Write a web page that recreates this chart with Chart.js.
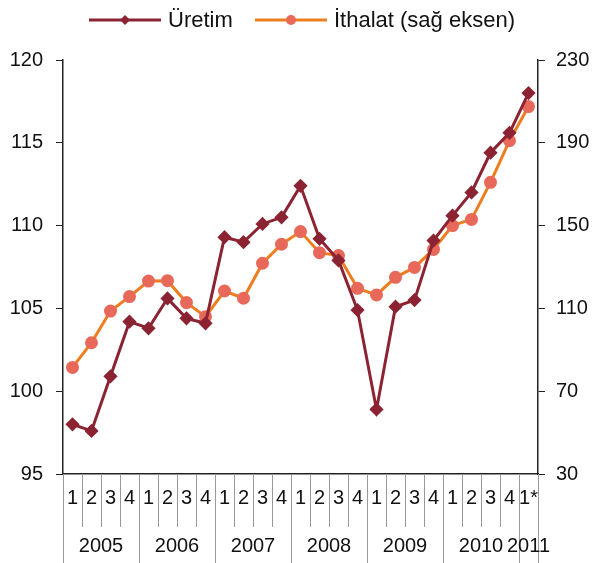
<!DOCTYPE html>
<html>
<head>
<meta charset="utf-8">
<script src="https://cdn.jsdelivr.net/npm/chart.js@4"></script>
<style>
  body { margin: 0; background: #fff; }
  #wrap { width: 593px; height: 563px; }
</style>
</head>
<body>
<div id="wrap"><canvas id="myChart"></canvas></div>
<script>
let quarters = ["1", "2", "3", "4", "1", "2", "3", "4", "1", "2", "3", "4", "1", "2", "3", "4", "1", "2", "3", "4", "1", "2", "3", "4", "1*"];
let years = ["2005", "2006", "2007", "2008", "2009", "2010", "2011"];
let yearStart = [0, 4, 8, 12, 16, 20, 24];
let uretim = [98.0, 97.6, 100.9, 104.2, 103.8, 105.6, 104.4, 104.1, 109.3, 109.0, 110.1, 110.5, 112.4, 109.2, 107.9, 104.9, 98.9, 105.1, 105.5, 109.1, 110.6, 112.0, 114.4, 115.6, 118.0];
let ithalat = [81.5, 93.4, 108.7, 115.7, 123.2, 123.4, 112.8, 106.0, 118.4, 114.9, 131.8, 141.0, 147.1, 136.9, 135.5, 119.7, 116.5, 125.0, 129.8, 138.5, 150.0, 153.0, 170.9, 191.0, 207.5];

let FONT = "'Liberation Sans', Arial, sans-serif";

// separators and year labels under the x axis
let bottomAxis = {
  id: "bottomAxis",
  afterDraw(chart) {
    let ctx = chart.ctx;
    let x = chart.scales.x;
    let area = chart.chartArea;
    let half = (x.getPixelForValue(1) - x.getPixelForValue(0)) / 2;
    ctx.save();
    ctx.strokeStyle = "#999";
    ctx.lineWidth = 1;
    for (let i = 0; i <= quarters.length; i++) {
      let px = Math.round(x.getPixelForValue(i) - half) + 0.5;
      let isYear = yearStart.indexOf(i) >= 0 || i == quarters.length;
      ctx.beginPath();
      ctx.moveTo(px, area.bottom);
      ctx.lineTo(px, isYear ? 563 : 527);
      ctx.stroke();
    }
    ctx.fillStyle = "#111";
    ctx.font = "20px " + FONT;
    ctx.textAlign = "center";
    ctx.textBaseline = "middle";
    for (let k = 0; k < years.length; k++) {
      let a = yearStart[k];
      let b = k + 1 < yearStart.length ? yearStart[k + 1] : quarters.length;
      let mid = (x.getPixelForValue(a) + x.getPixelForValue(b - 1)) / 2;
      ctx.fillText(years[k], mid, 546);
    }
    ctx.restore();
  },
};

// legend with line + marker
let lineLegend = {
  id: "lineLegend",
  afterDraw(chart) {
    let ctx = chart.ctx;
    let items = [
      { x: 89, text: "Üretim", ds: chart.data.datasets[0] },
      { x: 255, text: "İthalat (sağ eksen)", ds: chart.data.datasets[1] },
    ];
    ctx.save();
    ctx.font = "22px " + FONT;
    ctx.textBaseline = "middle";
    items.forEach(function (it) {
      let y = 20;
      ctx.strokeStyle = it.ds.borderColor;
      ctx.lineWidth = 3;
      ctx.beginPath();
      ctx.moveTo(it.x, y);
      ctx.lineTo(it.x + 72, y);
      ctx.stroke();
      ctx.fillStyle = it.ds.pointBackgroundColor;
      ctx.beginPath();
      if (it.ds.pointStyle == "rectRot") {
        ctx.moveTo(it.x + 36, y - 5);
        ctx.lineTo(it.x + 41, y);
        ctx.lineTo(it.x + 36, y + 5);
        ctx.lineTo(it.x + 31, y);
        ctx.closePath();
      } else {
        ctx.arc(it.x + 36, y, 5, 0, Math.PI * 2);
      }
      ctx.fill();
      ctx.fillStyle = "#111";
      ctx.fillText(it.text, it.x + 79, y + 1);
    });
    ctx.restore();
  },
};

let myChart = document.getElementById("myChart").getContext("2d");

let config = {
  type: "line",
  data: {
    labels: quarters,
    datasets: [
      {
        label: "Üretim",
        data: uretim,
        yAxisID: "y",
        borderColor: "#8B2332",
        borderWidth: 3,
        pointStyle: "rectRot",
        pointRadius: 5,
        pointBackgroundColor: "#8B2332",
        pointBorderColor: "#8B2332",
        tension: 0,
      },
      {
        label: "İthalat (sağ eksen)",
        data: ithalat,
        yAxisID: "y1",
        borderColor: "#EE7D1F",
        borderWidth: 3,
        pointStyle: "circle",
        pointRadius: 5,
        pointBackgroundColor: "#E8685A",
        pointBorderColor: "#E8685A",
        tension: 0,
      },
    ],
  },
  options: {
    responsive: true,
    maintainAspectRatio: false,
    animation: false,
    layout: { padding: { top: 60, left: 0, right: 0, bottom: 0 } },
    plugins: { legend: { display: false }, tooltip: { enabled: false } },
    scales: {
      x: {
        offset: true,
        grid: { display: false, drawTicks: false },
        border: { display: true, color: "#222", width: 1.5 },
        ticks: { color: "#111", font: { size: 20, family: FONT }, padding: 12, autoSkip: false, maxRotation: 0 },
        afterFit(s) { s.height = 89; },
      },
      y: {
        position: "left",
        min: 95,
        max: 120,
        ticks: { stepSize: 5, color: "#111", font: { size: 20, family: FONT }, padding: 13 },
        grid: { drawOnChartArea: false, tickLength: 7, color: "#222" },
        border: { color: "#222", width: 1.5 },
        afterFit(s) { s.width = 63; },
      },
      y1: {
        position: "right",
        min: 30,
        max: 230,
        ticks: { stepSize: 40, color: "#111", font: { size: 20, family: FONT }, padding: 11 },
        grid: { drawOnChartArea: false, tickLength: 7, color: "#222" },
        border: { color: "#222", width: 1.5 },
        afterFit(s) { s.width = 55; },
      },
    },
  },
  plugins: [bottomAxis, lineLegend],
};

let salesChart = new Chart(myChart, config);
</script>
</body>
</html>
